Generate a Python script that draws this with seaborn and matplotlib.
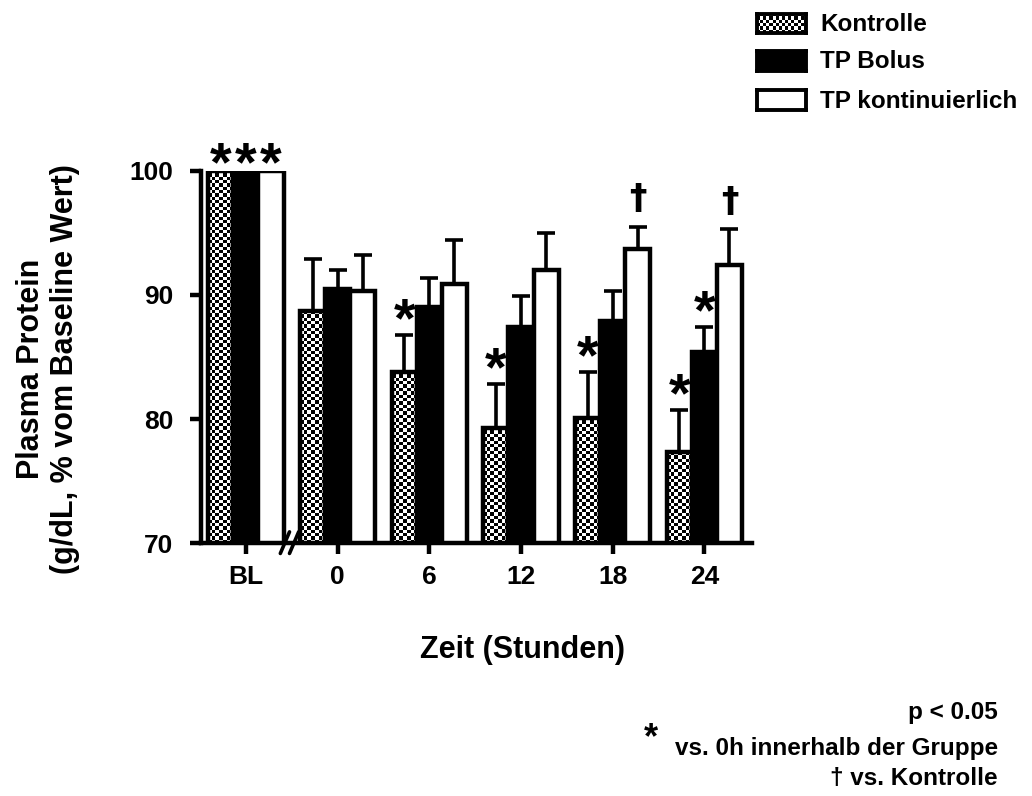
import numpy as np
import pandas as pd
import matplotlib
matplotlib.use("Agg")
import matplotlib.pyplot as plt
import matplotlib.transforms as mtransforms
import seaborn as sns

# Data: plasma protein as % of baseline value, mean and upper SD
times = ["BL", "0", "6", "12", "18", "24"]
groups = ["Kontrolle", "TP Bolus", "TP kontinuierlich"]
kontrolle_mean = [100.0, 88.7, 83.8, 79.3, 80.1, 77.3]
kontrolle_err = [0.0, 4.2, 3.0, 3.5, 3.7, 3.4]
bolus_mean = [100.0, 90.5, 89.0, 87.4, 87.9, 85.4]
bolus_err = [0.0, 1.5, 2.4, 2.5, 2.4, 2.0]
kontinuierlich_mean = [100.0, 90.3, 90.9, 92.0, 93.7, 92.4]
kontinuierlich_err = [0.0, 2.9, 3.5, 3.0, 1.8, 2.9]

star_marks = [("Kontrolle", "BL"), ("TP Bolus", "BL"), ("TP kontinuierlich", "BL"),
              ("Kontrolle", "6"), ("Kontrolle", "12"), ("Kontrolle", "18"),
              ("Kontrolle", "24"), ("TP Bolus", "24")]
dagger_marks = [("TP kontinuierlich", "18"), ("TP kontinuierlich", "24")]

means = [kontrolle_mean, bolus_mean, kontinuierlich_mean]
errs = [kontrolle_err, bolus_err, kontinuierlich_err]
df = pd.DataFrame({
    "Zeit": np.tile(times, 3),
    "Gruppe": np.repeat(groups, len(times)),
    "Wert": np.concatenate(means),
    "Fehler": np.concatenate(errs),
})

sns.set_style("white")
plt.rcParams["font.family"] = ["Liberation Sans", "DejaVu Sans"]
plt.rcParams["font.weight"] = "bold"
for key in ["text.color", "axes.labelcolor", "xtick.color", "ytick.color",
            "axes.edgecolor"]:
    plt.rcParams[key] = "black"

fig = plt.figure(figsize=(10.32, 7.96), dpi=100)
ax = fig.add_axes([0.1948, 0.3178, 0.5339, 0.4674])

palette = {"Kontrolle": "white", "TP Bolus": "black", "TP kontinuierlich": "white"}
sns.barplot(data=df, x="Zeit", y="Wert", hue="Gruppe", order=times,
            hue_order=groups, palette=palette, width=0.82, saturation=1,
            edgecolor="black", linewidth=3.2, errorbar=None, legend=False, ax=ax)

ax.set_ylim(70, 100)
ax.set_xlim(-0.49, 5.52)


def checker_image(nx, ny):
    return (np.indices((ny, nx)).sum(axis=0) % 2).astype(float)


# collect bar geometry by (group, time)
bars = {}
patches = list(ax.patches)
for gi, g in enumerate(groups):
    for ti, t in enumerate(times):
        bars[(g, t)] = patches[gi * len(times) + ti]

px_per_unit = (543 - 171) / 30.0
for t in times:
    p = bars[("Kontrolle", t)]
    p.set_facecolor("none")
    x0, w, h = p.get_x(), p.get_width(), p.get_height()
    ny = max(2, int((h - 70) * px_per_unit / 3.3))
    im = ax.imshow(checker_image(7, ny), cmap="gray_r", vmin=0, vmax=1,
                   extent=(x0, x0 + w, 70, h), aspect="auto",
                   interpolation="nearest", zorder=1)
    im.set_clip_path(p)
for p in bars.values():
    p.set_zorder(2)

# upward error bars with caps
for gi, g in enumerate(groups):
    for ti, t in enumerate(times):
        e = errs[gi][ti]
        if e <= 0:
            continue
        p = bars[(g, t)]
        xc = p.get_x() + p.get_width() / 2
        ax.errorbar(xc, means[gi][ti], yerr=[[0], [e]], fmt="none",
                    ecolor="black", elinewidth=2.6, capsize=6.5, capthick=2.6,
                    zorder=1.5)


# significance symbols
def top_of(g, t):
    gi, ti = groups.index(g), times.index(t)
    return means[gi][ti] + errs[gi][ti]


for g, t in star_marks:
    p = bars[(g, t)]
    xc = p.get_x() + p.get_width() / 2
    gap = -0.75 if t == "BL" else -0.1
    ax.text(xc, top_of(g, t) + gap, "*", ha="center", va="baseline",
            fontsize=40, fontweight="bold", clip_on=False)
for g, t in dagger_marks:
    p = bars[(g, t)]
    xc = p.get_x() + p.get_width() / 2
    ax.text(xc, top_of(g, t) + 1.4, "\u2020", ha="center", va="baseline",
            fontsize=25, fontweight="bold", family="DejaVu Sans", clip_on=False)

# axes styling
for s in ["top", "right"]:
    ax.spines[s].set_visible(False)
for s in ["left", "bottom"]:
    ax.spines[s].set_linewidth(3.2)
    ax.spines[s].set_color("black")
ax.set_yticks([70, 80, 90, 100])
ax.tick_params(axis="both", which="major", direction="out", length=8,
               width=3.2, color="black", labelsize=19)
ax.tick_params(axis="y", left=True, pad=12)
ax.tick_params(axis="x", bottom=True, pad=8)
for lbl in ax.get_xticklabels() + ax.get_yticklabels():
    lbl.set_fontweight("bold")
ax.set_xlabel("Zeit (Stunden)", fontsize=22, fontweight="bold")
ax.xaxis.set_label_coords(0.584, -0.248)
ax.set_ylabel("Plasma Protein\n(g/dL, % vom Baseline Wert)", fontsize=22,
              fontweight="bold", linespacing=1.15)
ax.yaxis.set_label_coords(-0.278, 0.468)
ax.yaxis.label.set_va("center")

# axis break marks
trans = mtransforms.blended_transform_factory(ax.transData, ax.transAxes)
for dx in (-0.045, 0.055):
    ax.plot([0.42 + dx, 0.52 + dx], [-0.028, 0.03], color="black", lw=2.6,
            transform=trans, clip_on=False, zorder=5)

# legend swatches
legend_rows = [(groups[0], 0.9705), (groups[1], 0.9235), (groups[2], 0.874)]
for name, yc in legend_rows:
    sw = fig.add_axes([0.7335, yc - 0.0125, 0.0475, 0.025])
    sw.set_xticks([])
    sw.set_yticks([])
    if name == "Kontrolle":
        sw.imshow(checker_image(16, 6), cmap="gray_r", vmin=0, vmax=1,
                  aspect="auto", interpolation="nearest")
    elif name == "TP Bolus":
        sw.set_facecolor("black")
    else:
        sw.set_facecolor("white")
    for s in sw.spines.values():
        s.set_linewidth(2.8)
        s.set_color("black")
    fig.text(0.7946, yc - 0.001, name, ha="left", va="center", fontsize=17.5,
             fontweight="bold")

# footnotes
fig.text(0.967, 0.1055, "p < 0.05", ha="right", va="center", fontsize=17.5,
         fontweight="bold")
fig.text(0.967, 0.0603, "vs. 0h innerhalb der Gruppe", ha="right", va="center",
         fontsize=17.5, fontweight="bold")
fig.text(0.638, 0.0603, "*", ha="right", va="baseline", fontsize=26,
         fontweight="bold")
fig.text(0.967, 0.0226, "\u2020 vs. Kontrolle", ha="right", va="center",
         fontsize=17.5, fontweight="bold")

fig.savefig("out.png", dpi=100)
